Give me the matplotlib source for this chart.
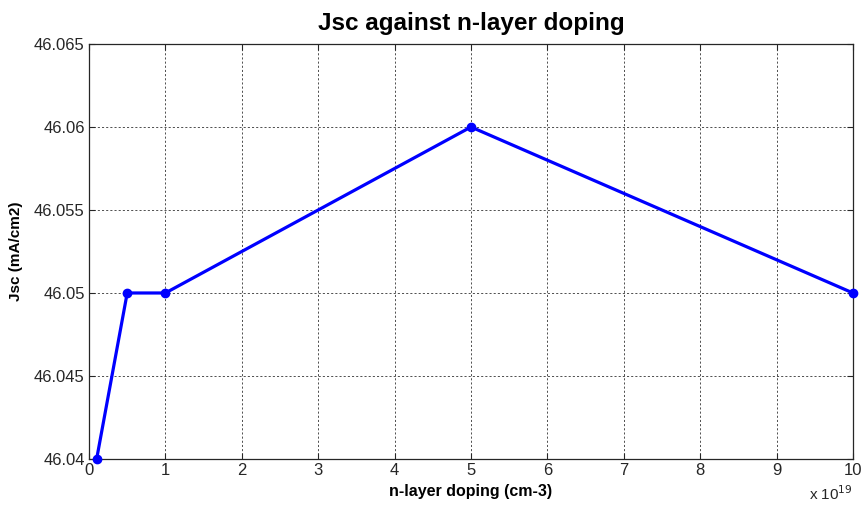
import numpy as np
import matplotlib.pyplot as plt

plt.rcParams['font.family'] = ['Liberation Sans', 'DejaVu Sans']

# n-layer doping (cm-3) and short-circuit current density (mA/cm2)
doping = np.array([1e18, 5e18, 1e19, 5e19, 1e20])
jsc = [46.04, 46.05, 46.05, 46.06, 46.05]
scale = 1e19

fig = plt.figure(figsize=(8.65, 5.08), dpi=100)
ax = fig.add_axes([0.1029, 0.0965, 0.8832, 0.8169])

ax.plot(doping / scale, jsc, color='blue', linewidth=2.3, marker='o',
        markersize=6, markerfacecolor='blue', markeredgecolor='blue',
        clip_on=False, zorder=3)

ax.set_xlim(0, 10)
ax.set_ylim(46.04, 46.065)
ax.set_xticks(range(0, 11))
ax.set_yticks([46.04, 46.045, 46.05, 46.055, 46.06, 46.065])
ax.set_yticklabels(['46.04', '46.045', '46.05', '46.055', '46.06', '46.065'])
ax.grid(True, color='#333333', linestyle=(0, (2.5, 2.5)), linewidth=0.6)
ax.tick_params(direction='in', length=4, labelsize=12, colors='#262626',
               top=True, right=True, pad=3)
for s in ax.spines.values():
    s.set_color('#262626')
    s.set_linewidth(0.9)

ax.set_title('Jsc against n-layer doping', fontsize=17.5, fontweight='bold', pad=10)
ax.set_xlabel('n-layer doping (cm-3)', fontsize=11.5, fontweight='bold', labelpad=4)
ax.set_ylabel('Jsc (mA/cm2)', fontsize=11, fontweight='bold', labelpad=8)
ax.text(1.0, -0.06, r'x 10$^{19}$', transform=ax.transAxes, ha='right',
        va='top', fontsize=11, color='#262626')

fig.savefig('out.png', dpi=100)
